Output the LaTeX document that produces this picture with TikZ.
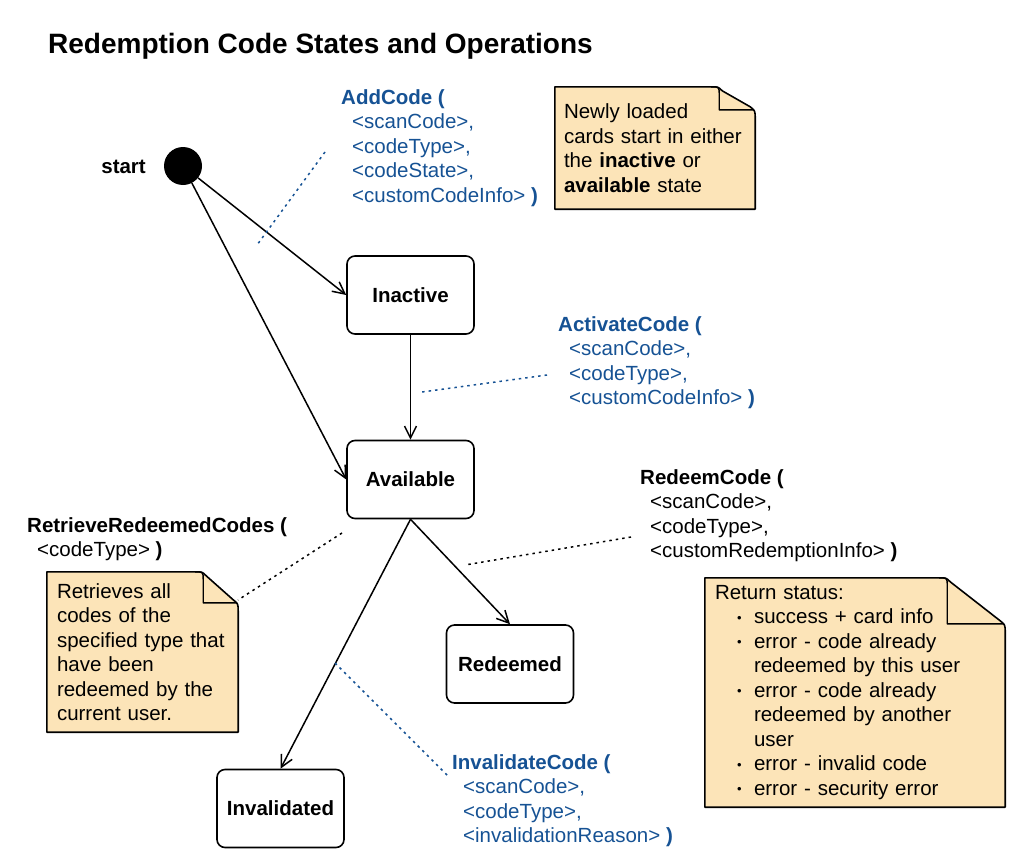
\documentclass[tikz,border=0pt]{standalone}
\usepackage{fontspec}
\setmainfont{Liberation Sans}
\usetikzlibrary{arrows.meta,calc,backgrounds}
\definecolor{notebg}{RGB}{252,228,184}
\definecolor{opblue}{RGB}{22,82,148}
% #1 node, #2 fold width, #3 fold height
\newcommand\drawnote[3]{%
  \coordinate (#1-fa) at ($(#1.north east)+(-#2,0)$);
  \draw[notefill] (#1.north west) -- ($(#1-fa)+(-2,0)$)
    .. controls ($(#1-fa)+(5,0)$) .. ($(#1-fa)+(9,4)$)
    -- ($(#1.north east)+(-5,#3-7)$)
    .. controls ($(#1.north east)+(0,#3-3)$) .. ($(#1.north east)+(0,#3+5)$)
    -- (#1.south east) -- (#1.south west) -- cycle;
  \draw[notefold] ($(#1-fa)+(-2,0)$) .. controls ($(#1-fa)+(6,0)$) .. ($(#1-fa)+(6,8)$)
    -- ($(#1-fa)+(6,#3-4)$) -- ($(#1.north east)+(-1,#3-4)$);
}
\begin{document}
\begin{tikzpicture}[x=1pt,y=-1pt,
  txt/.style={font=\fontsize{20.5}{24.5}\selectfont},
  statebox/.style={draw, line width=1.6pt, rounded corners=8pt, minimum width=127pt, minimum height=78pt, font=\fontsize{20.5}{24.5}\selectfont\bfseries, fill=white},
  notebody/.style={align=left, txt},
  notefill/.style={draw, line width=1.6pt, fill=notebg, line join=round},
  notefold/.style={draw, line width=1.4pt, line join=round},
  oplabel/.style={anchor=north west, inner sep=0pt, align=left, txt},
  trans/.style={draw, line width=1.5pt, -{Straight Barb[length=12pt,width=12pt,line width=1.5pt]}},
  bluedot/.style={draw=opblue, line width=1.5pt, dash pattern=on 2.5pt off 4pt},
  blackdot/.style={draw=black, line width=1.5pt, dash pattern=on 2.5pt off 4pt},
]
\useasboundingbox (0,0) rectangle (1024,867);
\newcommand\bul{\makebox[17pt][l]{\fontsize{13}{13}\selectfont\raisebox{1.5pt}{\textbullet}}}

% title
\node[anchor=base west, inner sep=0pt, font=\fontsize{28}{32}\selectfont\bfseries] (title) at (48,54) {Redemption Code States and Operations};

% start
\node[circle, fill=black, minimum size=38pt, inner sep=0pt] (start) at (183,166) {};
\node[anchor=east, inner sep=0pt, font=\fontsize{20.5}{24.5}\selectfont\bfseries] (startlbl) at (146,167) {start};

% states
\node[statebox] (inactive) at (410.5,295) {Inactive};
\node[statebox] (available) at (410.5,479.5) {Available};
\node[statebox] (redeemed) at (510,664) {Redeemed};
\node[statebox] (invalidated) at (280.5,808.5) {Invalidated};

% transitions
\draw[trans] (start) -- (inactive.west);
\draw[trans] (start) -- (available.west);
\draw[trans] (inactive) -- (available);
\draw[trans] (available.south) -- (redeemed.north);
\draw[trans] (available.south) -- (invalidated.north);

% notes
\node[notebody, minimum width=200pt, minimum height=122pt, text width=182pt] (note1) at (655,148)
  {Newly loaded\\cards start in either\\the \textbf{inactive} or\\\textbf{available} state};
\node[notebody, minimum width=300pt, minimum height=229pt, text width=280pt] (note2) at (855,692.5)
  {Return status:\\
   \hspace*{22pt}\bul success + card info\\
   \hspace*{22pt}\bul error - code already\\
   \hspace*{39pt}redeemed by this user\\
   \hspace*{22pt}\bul error - code already\\
   \hspace*{39pt}redeemed by another\\
   \hspace*{39pt}user\\
   \hspace*{22pt}\bul error - invalid code\\
   \hspace*{22pt}\bul error - security error};
\node[notebody, minimum width=191pt, minimum height=160pt, text width=171pt] (note3) at (142.5,652)
  {Retrieves all\\codes of the\\specified type that\\have been\\redeemed by the\\current user.};

\begin{scope}[on background layer]
\drawnote{note1}{42}{27}
\drawnote{note2}{64}{50}
\drawnote{note3}{41}{35}
\end{scope}

% operation labels
\node[oplabel, text=opblue] (addcode) at (341,89)
  {\textbf{AddCode (}\\
   \hspace*{11pt}<scanCode>,\\
   \hspace*{11pt}<codeType>,\\
   \hspace*{11pt}<codeState>,\\
   \hspace*{11pt}<customCodeInfo> \textbf{)}};
\node[oplabel, text=opblue] (activatecode) at (558,316)
  {\textbf{ActivateCode (}\\
   \hspace*{11pt}<scanCode>,\\
   \hspace*{11pt}<codeType>,\\
   \hspace*{11pt}<customCodeInfo> \textbf{)}};
\node[oplabel] (redeemcode) at (640,469)
  {\textbf{RedeemCode (}\\
   \hspace*{10pt}<scanCode>,\\
   \hspace*{10pt}<codeType>,\\
   \hspace*{10pt}<customRedemptionInfo> \textbf{)}};
\node[oplabel] (retrievecodes) at (27,517)
  {\textbf{RetrieveRedeemedCodes (}\\
   \hspace*{10pt}<codeType> \textbf{)}};
\node[oplabel, text=opblue] (invalidatecode) at (452,754)
  {\textbf{InvalidateCode (}\\
   \hspace*{11pt}<scanCode>,\\
   \hspace*{11pt}<codeType>,\\
   \hspace*{11pt}<invalidationReason> \textbf{)}};

% dotted connectors
\coordinate (ad1) at (325,152);
\coordinate (ad2) at (257,245);
\coordinate (ac1) at (547,375);
\coordinate (ac2) at (422,392);
\coordinate (rd1) at (631,537);
\coordinate (rd2) at (465,565);
\coordinate (rt1) at (342,533);
\coordinate (rt2) at (238,600);
\coordinate (iv1) at (335,663);
\coordinate (iv2) at (447,775);
\draw[bluedot] (ad1) -- (ad2);
\draw[bluedot] (ac1) -- (ac2);
\draw[blackdot] (rd1) -- (rd2);
\draw[blackdot] (rt1) -- (rt2);
\draw[bluedot] (iv1) -- (iv2);
\end{tikzpicture}
\end{document}
